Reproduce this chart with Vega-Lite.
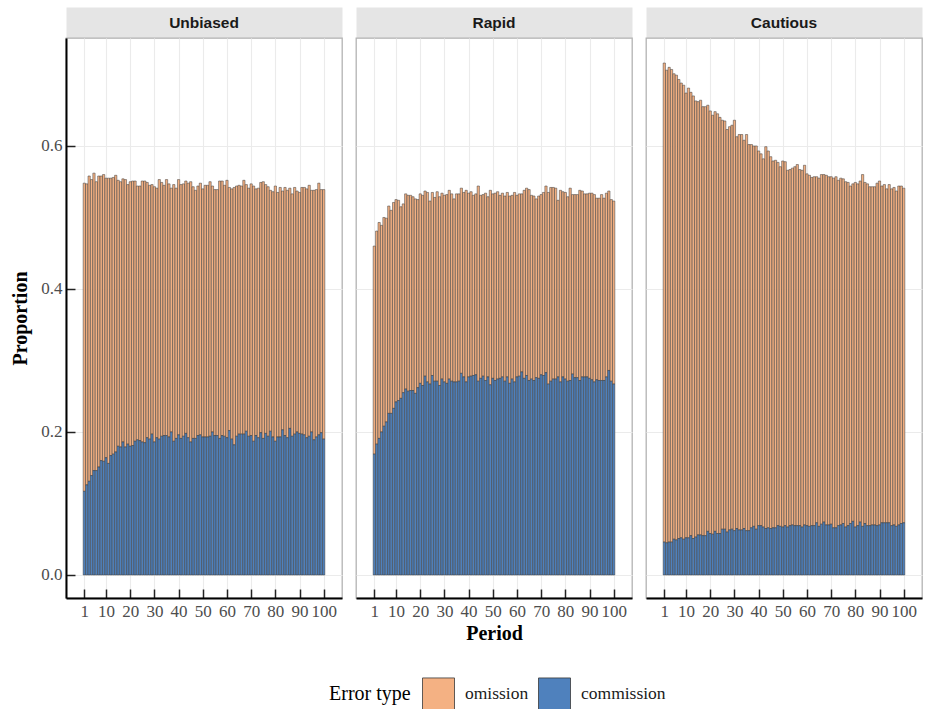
{
"$schema": "https://vega.github.io/schema/vega-lite/v6.json",
"background": "white",
"padding": {"left": 10, "top": 6, "right": 4, "bottom": 0},
"config": {
  "font": "Liberation Serif",
  "view": {"stroke": "#b3b3b3", "strokeWidth": 1.3},
  "axis": {"gridColor": "#ebebeb", "gridWidth": 1.1, "labelFont": "Liberation Serif", "labelFontSize": 17, "labelColor": "#4d4d4d", "titleFont": "Liberation Serif", "titleFontSize": 20, "titleFontWeight": "bold", "titleColor": "black", "domainColor": "black", "domainWidth": 2, "tickColor": "#222", "tickWidth": 1.5, "tickSize": -9, "labelOverlap": false, "labelBound": false}
},
"datasets": {
"u": [
{"period":1,"omission":0.431,"commission":0.117},{"period":2,"omission":0.421,"commission":0.126},{"period":3,"omission":0.427,"commission":0.131},{"period":4,"omission":0.414,"commission":0.139},{"period":5,"omission":0.416,"commission":0.146},{"period":6,"omission":0.404,"commission":0.146},{"period":7,"omission":0.407,"commission":0.151},{"period":8,"omission":0.398,"commission":0.160},{"period":9,"omission":0.401,"commission":0.159},{"period":10,"omission":0.391,"commission":0.164},
{"period":11,"omission":0.399,"commission":0.156},{"period":12,"omission":0.388,"commission":0.167},{"period":13,"omission":0.387,"commission":0.169},{"period":14,"omission":0.387,"commission":0.172},{"period":15,"omission":0.372,"commission":0.180},{"period":16,"omission":0.371,"commission":0.179},{"period":17,"omission":0.368,"commission":0.186},{"period":18,"omission":0.374,"commission":0.179},{"period":19,"omission":0.363,"commission":0.183},{"period":20,"omission":0.370,"commission":0.180},
{"period":21,"omission":0.370,"commission":0.181},{"period":22,"omission":0.364,"commission":0.187},{"period":23,"omission":0.355,"commission":0.189},{"period":24,"omission":0.356,"commission":0.188},{"period":25,"omission":0.365,"commission":0.186},{"period":26,"omission":0.366,"commission":0.185},{"period":27,"omission":0.357,"commission":0.192},{"period":28,"omission":0.355,"commission":0.190},{"period":29,"omission":0.349,"commission":0.197},{"period":30,"omission":0.357,"commission":0.186},
{"period":31,"omission":0.349,"commission":0.192},{"period":32,"omission":0.363,"commission":0.190},{"period":33,"omission":0.355,"commission":0.194},{"period":34,"omission":0.350,"commission":0.195},{"period":35,"omission":0.358,"commission":0.195},{"period":36,"omission":0.354,"commission":0.193},{"period":37,"omission":0.341,"commission":0.200},{"period":38,"omission":0.359,"commission":0.187},{"period":39,"omission":0.350,"commission":0.191},{"period":40,"omission":0.357,"commission":0.196},
{"period":41,"omission":0.355,"commission":0.191},{"period":42,"omission":0.353,"commission":0.194},{"period":43,"omission":0.353,"commission":0.198},{"period":44,"omission":0.356,"commission":0.192},{"period":45,"omission":0.364,"commission":0.186},{"period":46,"omission":0.352,"commission":0.191},{"period":47,"omission":0.347,"commission":0.191},{"period":48,"omission":0.349,"commission":0.195},{"period":49,"omission":0.352,"commission":0.196},{"period":50,"omission":0.347,"commission":0.193},
{"period":51,"omission":0.352,"commission":0.193},{"period":52,"omission":0.352,"commission":0.193},{"period":53,"omission":0.356,"commission":0.194},{"period":54,"omission":0.344,"commission":0.200},{"period":55,"omission":0.344,"commission":0.195},{"period":56,"omission":0.344,"commission":0.195},{"period":57,"omission":0.360,"commission":0.191},{"period":58,"omission":0.356,"commission":0.195},{"period":59,"omission":0.351,"commission":0.194},{"period":60,"omission":0.360,"commission":0.192},
{"period":61,"omission":0.340,"commission":0.202},{"period":62,"omission":0.350,"commission":0.190},{"period":63,"omission":0.360,"commission":0.182},{"period":64,"omission":0.350,"commission":0.194},{"period":65,"omission":0.348,"commission":0.197},{"period":66,"omission":0.347,"commission":0.197},{"period":67,"omission":0.355,"commission":0.197},{"period":68,"omission":0.345,"commission":0.201},{"period":69,"omission":0.347,"commission":0.194},{"period":70,"omission":0.352,"commission":0.195},
{"period":71,"omission":0.357,"commission":0.187},{"period":72,"omission":0.345,"commission":0.195},{"period":73,"omission":0.349,"commission":0.192},{"period":74,"omission":0.350,"commission":0.199},{"period":75,"omission":0.359,"commission":0.191},{"period":76,"omission":0.348,"commission":0.198},{"period":77,"omission":0.349,"commission":0.194},{"period":78,"omission":0.337,"commission":0.201},{"period":79,"omission":0.343,"commission":0.193},{"period":80,"omission":0.357,"commission":0.187},
{"period":81,"omission":0.342,"commission":0.193},{"period":82,"omission":0.349,"commission":0.193},{"period":83,"omission":0.334,"commission":0.203},{"period":84,"omission":0.347,"commission":0.195},{"period":85,"omission":0.346,"commission":0.192},{"period":86,"omission":0.336,"commission":0.205},{"period":87,"omission":0.339,"commission":0.194},{"period":88,"omission":0.345,"commission":0.197},{"period":89,"omission":0.337,"commission":0.200},{"period":90,"omission":0.337,"commission":0.198},
{"period":91,"omission":0.345,"commission":0.197},{"period":92,"omission":0.346,"commission":0.196},{"period":93,"omission":0.348,"commission":0.192},{"period":94,"omission":0.351,"commission":0.194},{"period":95,"omission":0.338,"commission":0.200},{"period":96,"omission":0.349,"commission":0.189},{"period":97,"omission":0.346,"commission":0.193},{"period":98,"omission":0.352,"commission":0.196},{"period":99,"omission":0.340,"commission":0.199},{"period":100,"omission":0.349,"commission":0.190}
],
"r": [
{"period":1,"omission":0.291,"commission":0.169},{"period":2,"omission":0.298,"commission":0.183},{"period":3,"omission":0.302,"commission":0.191},{"period":4,"omission":0.289,"commission":0.200},{"period":5,"omission":0.292,"commission":0.208},{"period":6,"omission":0.285,"commission":0.214},{"period":7,"omission":0.290,"commission":0.226},{"period":8,"omission":0.284,"commission":0.226},{"period":9,"omission":0.288,"commission":0.233},{"period":10,"omission":0.283,"commission":0.242},
{"period":11,"omission":0.280,"commission":0.244},{"period":12,"omission":0.268,"commission":0.247},{"period":13,"omission":0.264,"commission":0.255},{"period":14,"omission":0.273,"commission":0.260},{"period":15,"omission":0.274,"commission":0.257},{"period":16,"omission":0.273,"commission":0.258},{"period":17,"omission":0.271,"commission":0.258},{"period":18,"omission":0.272,"commission":0.254},{"period":19,"omission":0.263,"commission":0.262},{"period":20,"omission":0.265,"commission":0.268},
{"period":21,"omission":0.266,"commission":0.265},{"period":22,"omission":0.259,"commission":0.278},{"period":23,"omission":0.265,"commission":0.270},{"period":24,"omission":0.256,"commission":0.267},{"period":25,"omission":0.256,"commission":0.279},{"period":26,"omission":0.257,"commission":0.271},{"period":27,"omission":0.265,"commission":0.271},{"period":28,"omission":0.264,"commission":0.265},{"period":29,"omission":0.260,"commission":0.274},{"period":30,"omission":0.261,"commission":0.270},
{"period":31,"omission":0.264,"commission":0.268},{"period":32,"omission":0.264,"commission":0.274},{"period":33,"omission":0.262,"commission":0.271},{"period":34,"omission":0.256,"commission":0.270},{"period":35,"omission":0.263,"commission":0.270},{"period":36,"omission":0.262,"commission":0.271},{"period":37,"omission":0.259,"commission":0.282},{"period":38,"omission":0.258,"commission":0.277},{"period":39,"omission":0.268,"commission":0.270},{"period":40,"omission":0.257,"commission":0.277},
{"period":41,"omission":0.258,"commission":0.278},{"period":42,"omission":0.252,"commission":0.279},{"period":43,"omission":0.253,"commission":0.280},{"period":44,"omission":0.273,"commission":0.271},{"period":45,"omission":0.256,"commission":0.275},{"period":46,"omission":0.254,"commission":0.278},{"period":47,"omission":0.262,"commission":0.272},{"period":48,"omission":0.252,"commission":0.277},{"period":49,"omission":0.272,"commission":0.266},{"period":50,"omission":0.258,"commission":0.275},
{"period":51,"omission":0.262,"commission":0.272},{"period":52,"omission":0.262,"commission":0.274},{"period":53,"omission":0.256,"commission":0.275},{"period":54,"omission":0.257,"commission":0.277},{"period":55,"omission":0.259,"commission":0.271},{"period":56,"omission":0.258,"commission":0.277},{"period":57,"omission":0.262,"commission":0.268},{"period":58,"omission":0.257,"commission":0.274},{"period":59,"omission":0.265,"commission":0.270},{"period":60,"omission":0.254,"commission":0.277},
{"period":61,"omission":0.255,"commission":0.278},{"period":62,"omission":0.249,"commission":0.284},{"period":63,"omission":0.263,"commission":0.275},{"period":64,"omission":0.262,"commission":0.279},{"period":65,"omission":0.267,"commission":0.272},{"period":66,"omission":0.257,"commission":0.274},{"period":67,"omission":0.258,"commission":0.272},{"period":68,"omission":0.250,"commission":0.276},{"period":69,"omission":0.255,"commission":0.275},{"period":70,"omission":0.252,"commission":0.280},
{"period":71,"omission":0.256,"commission":0.279},{"period":72,"omission":0.261,"commission":0.283},{"period":73,"omission":0.268,"commission":0.267},{"period":74,"omission":0.271,"commission":0.271},{"period":75,"omission":0.268,"commission":0.274},{"period":76,"omission":0.267,"commission":0.274},{"period":77,"omission":0.247,"commission":0.277},{"period":78,"omission":0.268,"commission":0.270},{"period":79,"omission":0.259,"commission":0.277},{"period":80,"omission":0.261,"commission":0.274},
{"period":81,"omission":0.258,"commission":0.271},{"period":82,"omission":0.269,"commission":0.272},{"period":83,"omission":0.251,"commission":0.281},{"period":84,"omission":0.256,"commission":0.276},{"period":85,"omission":0.256,"commission":0.276},{"period":86,"omission":0.266,"commission":0.272},{"period":87,"omission":0.260,"commission":0.277},{"period":88,"omission":0.256,"commission":0.277},{"period":89,"omission":0.256,"commission":0.277},{"period":90,"omission":0.259,"commission":0.275},
{"period":91,"omission":0.261,"commission":0.273},{"period":92,"omission":0.262,"commission":0.270},{"period":93,"omission":0.254,"commission":0.273},{"period":94,"omission":0.255,"commission":0.272},{"period":95,"omission":0.260,"commission":0.272},{"period":96,"omission":0.255,"commission":0.272},{"period":97,"omission":0.257,"commission":0.277},{"period":98,"omission":0.251,"commission":0.286},{"period":99,"omission":0.254,"commission":0.271},{"period":100,"omission":0.256,"commission":0.267}
],
"c": [
{"period":1,"omission":0.670,"commission":0.046},{"period":2,"omission":0.661,"commission":0.045},{"period":3,"omission":0.664,"commission":0.046},{"period":4,"omission":0.661,"commission":0.046},{"period":5,"omission":0.651,"commission":0.050},{"period":6,"omission":0.650,"commission":0.049},{"period":7,"omission":0.642,"commission":0.051},{"period":8,"omission":0.636,"commission":0.052},{"period":9,"omission":0.635,"commission":0.050},{"period":10,"omission":0.622,"commission":0.052},
{"period":11,"omission":0.629,"commission":0.052},{"period":12,"omission":0.620,"commission":0.055},{"period":13,"omission":0.619,"commission":0.051},{"period":14,"omission":0.610,"commission":0.053},{"period":15,"omission":0.606,"commission":0.056},{"period":16,"omission":0.608,"commission":0.056},{"period":17,"omission":0.600,"commission":0.055},{"period":18,"omission":0.600,"commission":0.055},{"period":19,"omission":0.596,"commission":0.061},{"period":20,"omission":0.591,"commission":0.058},
{"period":21,"omission":0.586,"commission":0.057},{"period":22,"omission":0.587,"commission":0.061},{"period":23,"omission":0.587,"commission":0.058},{"period":24,"omission":0.582,"commission":0.058},{"period":25,"omission":0.572,"commission":0.064},{"period":26,"omission":0.571,"commission":0.064},{"period":27,"omission":0.563,"commission":0.060},{"period":28,"omission":0.564,"commission":0.063},{"period":29,"omission":0.565,"commission":0.064},{"period":30,"omission":0.574,"commission":0.062},
{"period":31,"omission":0.548,"commission":0.065},{"period":32,"omission":0.553,"commission":0.063},{"period":33,"omission":0.553,"commission":0.063},{"period":34,"omission":0.543,"commission":0.065},{"period":35,"omission":0.554,"commission":0.062},{"period":36,"omission":0.540,"commission":0.062},{"period":37,"omission":0.536,"commission":0.066},{"period":38,"omission":0.532,"commission":0.068},{"period":39,"omission":0.536,"commission":0.064},{"period":40,"omission":0.524,"commission":0.069},
{"period":41,"omission":0.520,"commission":0.069},{"period":42,"omission":0.515,"commission":0.067},{"period":43,"omission":0.534,"commission":0.065},{"period":44,"omission":0.527,"commission":0.066},{"period":45,"omission":0.520,"commission":0.065},{"period":46,"omission":0.513,"commission":0.066},{"period":47,"omission":0.514,"commission":0.066},{"period":48,"omission":0.508,"commission":0.069},{"period":49,"omission":0.503,"commission":0.068},{"period":50,"omission":0.512,"commission":0.067},
{"period":51,"omission":0.509,"commission":0.069},{"period":52,"omission":0.499,"commission":0.067},{"period":53,"omission":0.498,"commission":0.069},{"period":54,"omission":0.499,"commission":0.070},{"period":55,"omission":0.502,"commission":0.069},{"period":56,"omission":0.505,"commission":0.069},{"period":57,"omission":0.498,"commission":0.069},{"period":58,"omission":0.499,"commission":0.067},{"period":59,"omission":0.503,"commission":0.070},{"period":60,"omission":0.492,"commission":0.069},
{"period":61,"omission":0.491,"commission":0.068},{"period":62,"omission":0.487,"commission":0.069},{"period":63,"omission":0.488,"commission":0.069},{"period":64,"omission":0.484,"commission":0.073},{"period":65,"omission":0.487,"commission":0.068},{"period":66,"omission":0.489,"commission":0.071},{"period":67,"omission":0.486,"commission":0.074},{"period":68,"omission":0.489,"commission":0.070},{"period":69,"omission":0.487,"commission":0.070},{"period":70,"omission":0.486,"commission":0.071},
{"period":71,"omission":0.489,"commission":0.066},{"period":72,"omission":0.491,"commission":0.066},{"period":73,"omission":0.483,"commission":0.069},{"period":74,"omission":0.485,"commission":0.070},{"period":75,"omission":0.482,"commission":0.072},{"period":76,"omission":0.483,"commission":0.067},{"period":77,"omission":0.480,"commission":0.069},{"period":78,"omission":0.472,"commission":0.072},{"period":79,"omission":0.472,"commission":0.075},{"period":80,"omission":0.482,"commission":0.067},
{"period":81,"omission":0.478,"commission":0.069},{"period":82,"omission":0.477,"commission":0.074},{"period":83,"omission":0.492,"commission":0.068},{"period":84,"omission":0.477,"commission":0.072},{"period":85,"omission":0.478,"commission":0.069},{"period":86,"omission":0.474,"commission":0.069},{"period":87,"omission":0.473,"commission":0.070},{"period":88,"omission":0.473,"commission":0.070},{"period":89,"omission":0.479,"commission":0.069},{"period":90,"omission":0.481,"commission":0.070},
{"period":91,"omission":0.471,"commission":0.073},{"period":92,"omission":0.473,"commission":0.073},{"period":93,"omission":0.467,"commission":0.073},{"period":94,"omission":0.473,"commission":0.073},{"period":95,"omission":0.471,"commission":0.069},{"period":96,"omission":0.472,"commission":0.070},{"period":97,"omission":0.469,"commission":0.068},{"period":98,"omission":0.474,"commission":0.070},{"period":99,"omission":0.472,"commission":0.072},{"period":100,"omission":0.468,"commission":0.073}
]
},
"resolve": {"scale": {"color": "shared"}, "legend": {"color": "shared"}},
"spacing": 12,
"hconcat": [
{
  "spacing": 0, "bounds": "flush",
  "vconcat": [
    {"width": 276, "height": 31, "view": {"fill": "#e5e5e5", "stroke": "transparent"}, "data": {"values": [{"label": "Unbiased"}]}, "mark": {"type": "text", "font": "Liberation Sans", "fontWeight": "bold", "fontSize": 15.5, "color": "#1a1a1a", "baseline": "middle", "align": "center"}, "encoding": {"text": {"field": "label"}}},
    {"width": 276, "height": 560, "data": {"name": "u"}, "transform": [{"fold": ["omission", "commission"], "as": ["type", "proportion"]}],
     "mark": {"type": "bar", "width": 2.26, "stroke": "#383838", "strokeWidth": 0.5},
     "encoding": {
       "x": {"field": "period", "type": "quantitative", "scale": {"domain": [-4.5, 105.5], "nice": false, "zero": false}, "axis": {"values": [1,10,20,30,40,50,60,70,80,90,100], "title": null, "labelPadding": 14}},
       "y": {"field": "proportion", "type": "quantitative", "stack": "zero", "scale": {"domain": [-0.0322, 0.751], "nice": false, "zero": false}, "axis": {"values": [0, 0.2, 0.4, 0.6], "format": ".1f", "title": "Proportion", "labelPadding": 13, "titlePadding": 10}},
       "color": {"field": "type", "type": "nominal", "scale": {"domain": ["omission", "commission"], "range": ["#F4B183", "#4F81BD"]}, "legend": {"orient": "none", "legendX": 263, "legendY": 670, "direction": "horizontal", "title": "Error type", "titleOrient": "left", "titleFont": "Liberation Serif", "titleFontSize": 20, "titleFontWeight": "normal", "titleColor": "black", "labelFont": "Liberation Serif", "labelFontSize": 17.5, "labelColor": "#1a1a1a", "symbolType": "square", "symbolSize": 1024, "symbolStrokeColor": "#777", "symbolStrokeWidth": 0.8, "symbolOpacity": 1, "labelOffset": 10, "columnPadding": 7, "titlePadding": 11, "padding": 0}},
       "order": {"field": "type", "sort": "ascending"}
     }}
  ]
},
{
  "spacing": 0, "bounds": "flush",
  "vconcat": [
    {"width": 276, "height": 31, "view": {"fill": "#e5e5e5", "stroke": "transparent"}, "data": {"values": [{"label": "Rapid"}]}, "mark": {"type": "text", "font": "Liberation Sans", "fontWeight": "bold", "fontSize": 15.5, "color": "#1a1a1a", "baseline": "middle", "align": "center"}, "encoding": {"text": {"field": "label"}}},
    {"width": 276, "height": 560, "data": {"name": "r"}, "transform": [{"fold": ["omission", "commission"], "as": ["type", "proportion"]}],
     "mark": {"type": "bar", "width": 2.26, "stroke": "#383838", "strokeWidth": 0.5},
     "encoding": {
       "x": {"field": "period", "type": "quantitative", "scale": {"domain": [-4.5, 105.5], "nice": false, "zero": false}, "axis": {"values": [1,10,20,30,40,50,60,70,80,90,100], "title": "Period", "labelPadding": 14, "titlePadding": 4}},
       "y": {"field": "proportion", "type": "quantitative", "stack": "zero", "scale": {"domain": [-0.0322, 0.751], "nice": false, "zero": false}, "axis": {"values": [0, 0.2, 0.4, 0.6], "title": null, "labels": false, "ticks": false, "domain": false}},
       "color": {"field": "type", "type": "nominal", "scale": {"domain": ["omission", "commission"], "range": ["#F4B183", "#4F81BD"]}},
       "order": {"field": "type", "sort": "ascending"}
     }}
  ]
},
{
  "spacing": 0, "bounds": "flush",
  "vconcat": [
    {"width": 276, "height": 31, "view": {"fill": "#e5e5e5", "stroke": "transparent"}, "data": {"values": [{"label": "Cautious"}]}, "mark": {"type": "text", "font": "Liberation Sans", "fontWeight": "bold", "fontSize": 15.5, "color": "#1a1a1a", "baseline": "middle", "align": "center"}, "encoding": {"text": {"field": "label"}}},
    {"width": 276, "height": 560, "data": {"name": "c"}, "transform": [{"fold": ["omission", "commission"], "as": ["type", "proportion"]}],
     "mark": {"type": "bar", "width": 2.26, "stroke": "#383838", "strokeWidth": 0.5},
     "encoding": {
       "x": {"field": "period", "type": "quantitative", "scale": {"domain": [-4.5, 105.5], "nice": false, "zero": false}, "axis": {"values": [1,10,20,30,40,50,60,70,80,90,100], "title": null, "labelPadding": 14}},
       "y": {"field": "proportion", "type": "quantitative", "stack": "zero", "scale": {"domain": [-0.0322, 0.751], "nice": false, "zero": false}, "axis": {"values": [0, 0.2, 0.4, 0.6], "title": null, "labels": false, "ticks": false, "domain": false}},
       "color": {"field": "type", "type": "nominal", "scale": {"domain": ["omission", "commission"], "range": ["#F4B183", "#4F81BD"]}},
       "order": {"field": "type", "sort": "ascending"}
     }}
  ]
}
]
}
